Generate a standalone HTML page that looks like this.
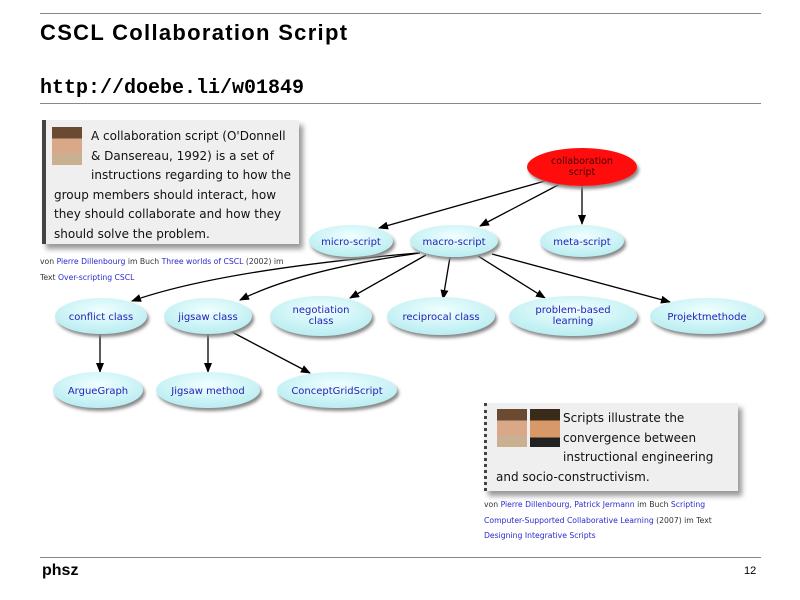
<!DOCTYPE html>
<html><head><style>
body{margin:0;width:800px;height:600px;background:#fff;position:relative;font-family:"Liberation Sans",sans-serif;overflow:hidden}
.hl{position:absolute;left:40px;width:721px;height:1px;background:#888}
.abs{position:absolute}
.box{position:absolute;background:#efefef;box-shadow:4px 5px 5px #999;line-height:19.5px;color:#111;font-family:"DejaVu Sans",sans-serif;font-size:12px}
.cap{position:absolute;font-size:7.7px;line-height:15.5px;color:#333;font-family:"DejaVu Sans",sans-serif}
.cap span{color:#2a2ad0}
.ph{position:absolute;width:30px;height:38px;background:linear-gradient(#6a4a30 0 30%,#d8a888 30% 70%,#c8b090 70%)}
</style></head><body>
<div class="hl" style="top:13px"></div>
<div class="hl" style="top:103px"></div>
<div class="hl" style="top:557px"></div>
<div class="abs" style="left:40px;top:20px;font-size:22px;font-weight:bold;letter-spacing:1.3px">CSCL Collaboration Script</div>
<div class="abs" style="left:40px;top:77px;font-size:20px;font-weight:bold;font-family:'Liberation Mono',monospace">http://doebe.li/w01849</div>
<div class="abs" style="left:42px;top:562px;font-size:16px;font-weight:bold">phsz</div>
<div class="abs" style="left:744px;top:565px;font-size:11px">12</div>

<div class="box" style="left:42px;top:120px;width:245px;height:117px;padding:7px 0 0 8px;border-left:4px solid #444;white-space:nowrap">
<div class="ph" style="left:6px;top:7px;position:absolute"></div>
<div style="padding-left:37px">A collaboration script (O'Donnell<br>&amp; Dansereau, 1992) is a set of<br>instructions regarding to how the</div>
<div>group members should interact, how<br>they should collaborate and how they<br>should solve the problem.</div>
</div>
<div class="cap" style="left:40px;top:254px;width:260px">von <span>Pierre Dillenbourg</span> im Buch <span>Three worlds of CSCL</span> (2002) im<br>Text <span>Over-scripting CSCL</span></div>

<div class="box" style="left:484px;top:403px;width:242px;height:82px;padding:6px 0 0 9px;border-left:3px dotted #444;white-space:nowrap">
<div class="ph" style="left:10px;top:6px"></div>
<div class="ph" style="left:43px;top:6px;background:linear-gradient(#3a2a1a 0 30%,#d89868 30% 75%,#222 75%)"></div>
<div style="padding-left:67px">Scripts illustrate the<br>convergence between<br>instructional engineering</div>
<div>and socio-constructivism.</div>
</div>
<div class="cap" style="left:484px;top:497px;width:260px">von <span>Pierre Dillenbourg, Patrick Jermann</span> im Buch <span>Scripting</span><br><span>Computer-Supported Collaborative Learning</span> (2007) im Text<br><span>Designing Integrative Scripts</span></div>

<svg class="abs" style="left:0;top:0" width="800" height="600" font-family="DejaVu Sans, sans-serif" font-size="10" fill="#2222bb">
<defs>
<marker id="a" markerWidth="10" markerHeight="8" refX="9" refY="4" orient="auto" markerUnits="userSpaceOnUse"><path d="M0,0L10,4L0,8z" fill="#000"/></marker>
<filter id="s"><feDropShadow dx="2" dy="3" stdDeviation="1.5" flood-color="#888"/></filter>
<radialGradient id="c" cx="50%" cy="35%" r="60%"><stop offset="0" stop-color="#f0ffff"/><stop offset="1" stop-color="#bdeef2"/></radialGradient>
</defs>
<g stroke="#000" stroke-width="1.3" fill="none" marker-end="url(#a)">
<path d="M545,181L379,228"/>
<path d="M560,184L480,226"/>
<path d="M582,185L582,224"/>
<path d="M418,253Q220,270 132,301"/>
<path d="M420,253Q300,270 240,300"/>
<path d="M426,255L350,298"/>
<path d="M450,257L443,299"/>
<path d="M478,256L545,298"/>
<path d="M492,254L670,302"/>
<path d="M100,334L100,372"/>
<path d="M208,334L208,372"/>
<path d="M230,331L310,373"/>
</g>
<g filter="url(#s)">
<ellipse cx="582" cy="167" rx="55" ry="19" fill="#ff1010"/>
<ellipse cx="351" cy="241" rx="42" ry="16" fill="url(#c)"/>
<ellipse cx="454" cy="241" rx="44" ry="16" fill="url(#c)"/>
<ellipse cx="582" cy="241" rx="42" ry="16" fill="url(#c)"/>
<ellipse cx="101" cy="316" rx="46" ry="18" fill="url(#c)"/>
<ellipse cx="208" cy="316" rx="44" ry="18" fill="url(#c)"/>
<ellipse cx="321" cy="316" rx="51" ry="20" fill="url(#c)"/>
<ellipse cx="441" cy="316" rx="54" ry="19" fill="url(#c)"/>
<ellipse cx="573" cy="316" rx="64" ry="20" fill="url(#c)"/>
<ellipse cx="707" cy="316" rx="57" ry="18" fill="url(#c)"/>
<ellipse cx="98" cy="390" rx="45" ry="18" fill="url(#c)"/>
<ellipse cx="208" cy="390" rx="52" ry="18" fill="url(#c)"/>
<ellipse cx="337" cy="390" rx="60" ry="18" fill="url(#c)"/>
</g>
<g text-anchor="middle">
<text x="582" y="164" fill="#400" font-size="9.5">collaboration</text>
<text x="582" y="175" fill="#400" font-size="9.5">script</text>
<text x="351" y="245">micro-script</text>
<text x="454" y="245">macro-script</text>
<text x="582" y="245">meta-script</text>
<text x="101" y="320">conflict class</text>
<text x="208" y="320">jigsaw class</text>
<text x="321" y="313">negotiation</text>
<text x="321" y="324">class</text>
<text x="441" y="320">reciprocal class</text>
<text x="573" y="313">problem-based</text>
<text x="573" y="324">learning</text>
<text x="707" y="320">Projektmethode</text>
<text x="98" y="394">ArgueGraph</text>
<text x="208" y="394">Jigsaw method</text>
<text x="337" y="394">ConceptGridScript</text>
</g>
</svg>
</body></html>
